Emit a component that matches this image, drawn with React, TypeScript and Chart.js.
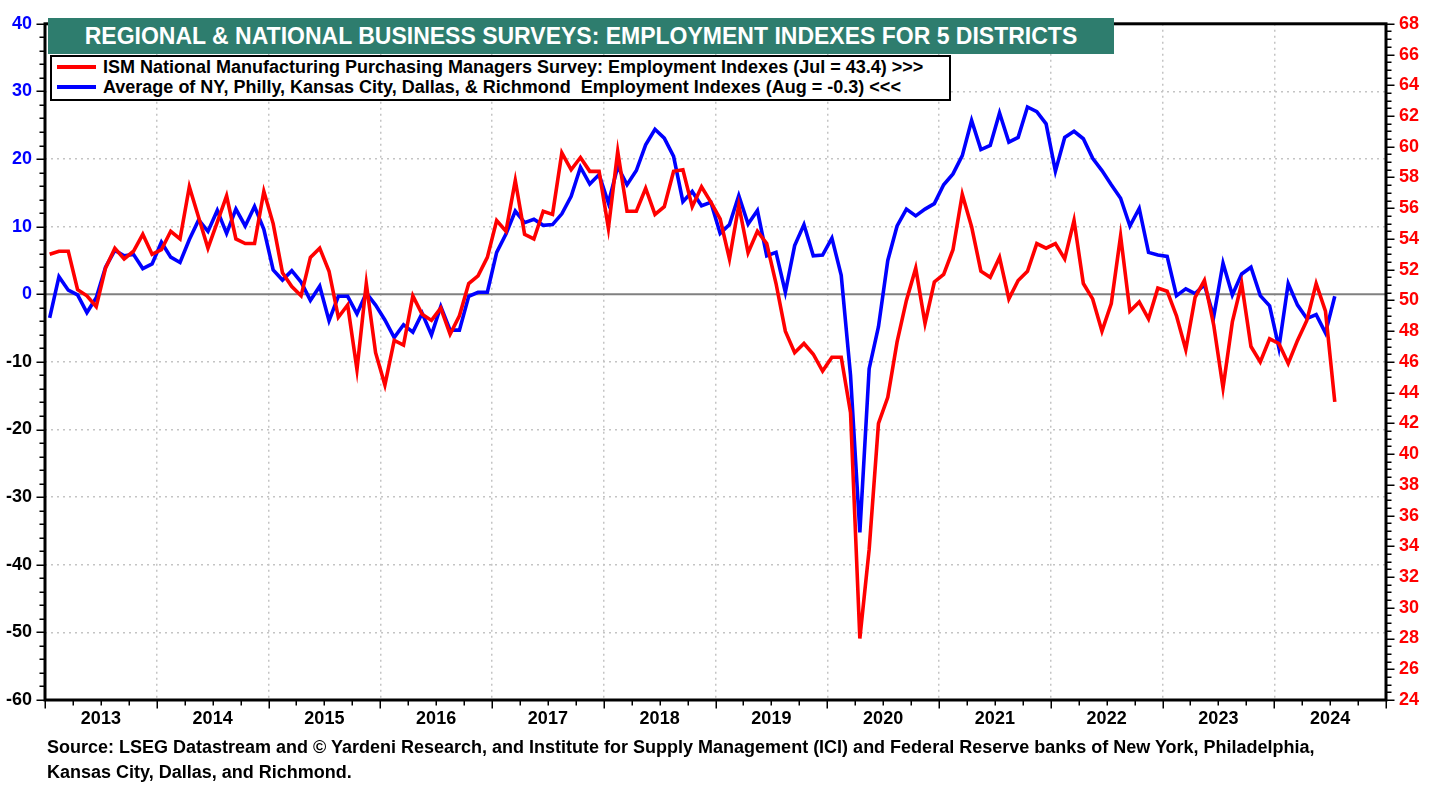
import React, { useEffect, useRef } from 'react';
import { Chart, registerables } from 'chart.js';

Chart.register(...registerables);

const FONT = 'Arial, "Liberation Sans", Helvetica, sans-serif';

// ---- data ----
const yearLabels = ['2013', '2014', '2015', '2016', '2017', '2018', '2019', '2020', '2021', '2022', '2023', '2024'];
const firstYear = 2013;
const axisMonths = 144; // Jan 2013 .. Jan 2025

const leftTickMin = -60;
const leftTickMax = 40;
const leftTickStep = 10;
const rightTickMin = 24;
const rightTickMax = 68;
const rightTickStep = 2;

// ISM manufacturing employment index (right axis), monthly from Jan 2013
const ismEmployment = [
  53.0, 53.2, 53.2, 50.7, 50.3, 49.6, 52.1, 53.4, 52.7, 53.2, 54.3, 53.0,
  53.3, 54.5, 54.0, 57.4, 55.4, 53.4, 55.1, 56.8, 54.0, 53.7, 53.7, 57.1,
  55.0, 51.8, 50.9, 50.3, 52.8, 53.4, 51.9, 48.9, 49.7, 45.5, 51.1, 46.6,
  44.5, 47.4, 47.1, 50.3, 49.1, 48.7, 49.5, 47.8, 49.0, 51.1, 51.6, 52.8,
  55.2, 54.5, 57.8, 54.3, 54.0, 55.8, 55.6, 59.6, 58.5, 59.3, 58.4, 58.4,
  54.7, 59.7, 55.8, 55.8, 57.3, 55.6, 56.1, 58.4, 58.5, 56.1, 57.4, 56.4,
  55.3, 52.7, 56.2, 53.1, 54.5, 53.7, 51.1, 48.0, 46.6, 47.2, 46.5, 45.4,
  46.3, 46.3, 42.7, 28.0, 33.8, 42.0, 43.7, 47.3, 50.0, 52.1, 48.5, 51.2,
  51.7, 53.3, 56.9, 54.8, 51.9, 51.5, 52.8, 50.1, 51.3, 51.9, 53.7, 53.4,
  53.7, 52.7, 55.2, 51.1, 50.1, 48.0, 49.8, 54.2, 49.3, 49.9, 48.8, 50.8,
  50.6, 49.0, 46.8, 50.2, 51.3, 48.4, 44.3, 48.6, 51.1, 47.0, 46.0, 47.5,
  47.2, 45.9, 47.4, 48.7, 51.1, 49.3, 43.4,
];

// Average of 5 regional Fed employment indexes (left axis)
const regionalEmployment = [
  -3.5, 2.6, 0.6, -0.1, -2.7, -0.5, 4.0, 6.5, 5.7, 5.9, 3.8, 4.5,
  7.7, 5.5, 4.7, 8.1, 11.0, 9.3, 12.4, 9.0, 12.6, 10.1, 13.0, 9.6,
  3.6, 2.1, 3.5, 1.8, -0.9, 1.2, -3.9, -0.3, -0.3, -2.9, 0.2, -1.6,
  -3.8, -6.4, -4.5, -5.6, -2.8, -6.0, -1.8, -5.3, -5.3, -0.3, 0.3, 0.3,
  6.2, 8.9, 12.3, 10.6, 11.1, 10.2, 10.3, 11.9, 14.5, 18.8, 16.3, 17.7,
  13.5, 18.9, 16.2, 18.3, 22.1, 24.4, 23.1, 20.4, 13.7, 15.2, 13.1, 13.6,
  9.0, 10.3, 14.6, 10.4, 12.4, 5.7, 6.2, 0.3, 7.2, 10.3, 5.7, 5.8,
  8.3, 2.8, -12.0, -35.2, -11.0, -4.8, 5.0, 10.1, 12.6, 11.6, 12.6, 13.4,
  16.2, 17.8, 20.5, 25.7, 21.4, 22.0, 26.8, 22.5, 23.2, 27.7, 27.0, 25.2,
  18.2, 23.2, 24.1, 23.0, 20.1, 18.3, 16.2, 14.2, 10.1, 12.7, 6.2, 5.8,
  5.6, -0.2, 0.8, 0.1, 1.4, -3.3, 4.6, -0.1, 3.0, 4.0, -0.2, -1.7,
  -7.9, 1.6, -1.6, -3.6, -3.0, -5.7, -0.3,
];

const monthCategories = ismEmployment.map((_, i) => `${firstYear + Math.floor(i / 12)}-${String((i % 12) + 1).padStart(2, '0')}`);

const titleText = 'REGIONAL & NATIONAL BUSINESS SURVEYS: EMPLOYMENT INDEXES FOR 5 DISTRICTS';
const legendLabels = [
  'ISM National Manufacturing Purchasing Managers Survey: Employment Indexes (Jul = 43.4) >>>',
  'Average of NY, Philly, Kansas City, Dallas, & Richmond  Employment Indexes (Aug = -0.3) <<<',
];
const sourceLines = [
  'Source: LSEG Datastream and \u00A9 Yardeni Research, and Institute for Supply Management (ICI) and Federal Reserve banks of New York, Philadelphia,',
  'Kansas City, Dallas, and Richmond.',
];

const RED = '#ff0000';
const BLUE = '#0000ff';
const GRID = '#c4c4c4';

const toPoints = (arr: number[]) => arr.map((v, i) => ({ x: i + 0.5, y: v }));

const framePlugin = {
  id: 'framePlugin',
  beforeDatasetsDraw(chart: any) {
    const { ctx, chartArea: ca, scales } = chart;
    const y0 = scales.y.getPixelForValue(0);
    ctx.save();
    ctx.strokeStyle = '#808080';
    ctx.lineWidth = 2;
    ctx.beginPath();
    ctx.moveTo(ca.left, y0);
    ctx.lineTo(ca.right, y0);
    ctx.stroke();
    ctx.restore();
  },
  afterDraw(chart: any) {
    const { ctx, chartArea: ca, scales } = chart;
    ctx.save();
    ctx.strokeStyle = '#000';
    ctx.lineWidth = 1.5;
    ctx.beginPath();
    for (let v = leftTickMin; v <= leftTickMax; v += 2) {
      const y = Math.round(scales.y.getPixelForValue(v)) + 0.25;
      const len = v % 10 === 0 ? 7 : 4;
      ctx.moveTo(ca.left - 1.5 - len, y);
      ctx.lineTo(ca.left, y);
    }
    for (let v = rightTickMin; v <= rightTickMax + 1e-9; v += 0.5) {
      const y = Math.round(scales.y2.getPixelForValue(v)) + 0.25;
      const len = Math.abs(v % 2) < 1e-9 ? 7 : 4;
      ctx.moveTo(ca.right, y);
      ctx.lineTo(ca.right + 1.5 + len, y);
    }
    for (let m = 0; m <= axisMonths; m += 3) {
      const x = Math.round(scales.x.getPixelForValue(m)) + 0.25;
      const len = m % 12 === 0 ? 7 : 4;
      ctx.moveTo(x, ca.bottom);
      ctx.lineTo(x, ca.bottom + 1.5 + len);
    }
    ctx.stroke();
    ctx.lineWidth = 3;
    ctx.strokeRect(ca.left, ca.top, ca.right - ca.left, ca.bottom - ca.top);
    ctx.restore();
  },
};

export default function App() {
  const canvasRef = useRef<HTMLCanvasElement | null>(null);

  useEffect(() => {
    const canvas = canvasRef.current;
    if (!canvas) return;
    const tickFont = { family: FONT, size: 18, weight: 'bold' as const };
    const chart = new Chart(canvas, {
      type: 'line',
      data: {
        labels: monthCategories,
        datasets: [
          {
            label: legendLabels[0],
            data: toPoints(ismEmployment),
            yAxisID: 'y2',
            borderColor: RED,
            backgroundColor: RED,
            borderWidth: 3.6,
            pointRadius: 0,
            tension: 0,
            fill: false,
          },
          {
            label: legendLabels[1],
            data: toPoints(regionalEmployment),
            yAxisID: 'y',
            borderColor: BLUE,
            backgroundColor: BLUE,
            borderWidth: 3.6,
            pointRadius: 0,
            tension: 0,
            fill: false,
          },
        ],
      },
      options: {
        responsive: false,
        animation: false,
        devicePixelRatio: 1,
        layout: { padding: { top: 15, left: 0, right: 0, bottom: 0 } },
        plugins: { legend: { display: false }, tooltip: { enabled: false }, title: { display: false } },
        scales: {
          x: {
            type: 'linear',
            min: 0,
            max: axisMonths,
            afterFit: (s: any) => { s.height = 87; },
            grid: {
              drawTicks: false,
              lineWidth: 1.5,
              color: (c: any) => {
                const v = c.tick ? c.tick.value : -1;
                return v % 12 === 0 && v > 0 && v < axisMonths ? GRID : 'rgba(0,0,0,0)';
              },
            },
            border: { display: false, dash: [2, 4] },
            ticks: {
              stepSize: 3,
              autoSkip: false,
              maxTicksLimit: 200,
              maxRotation: 0,
              padding: 8,
              color: '#000',
              font: tickFont,
              callback: (v: any) => {
                const n = Number(v);
                if (n % 12 === 6) return yearLabels[(n - 6) / 12] ?? '';
                return '';
              },
            },
          },
          y: {
            type: 'linear',
            position: 'left',
            min: leftTickMin,
            max: leftTickMax,
            afterFit: (s: any) => { s.width = 45; },
            grid: {
              drawTicks: false,
              lineWidth: 1.5,
              color: (c: any) => {
                const v = c.tick ? c.tick.value : 0;
                return v === 0 || v === leftTickMin || v === leftTickMax ? 'rgba(0,0,0,0)' : GRID;
              },
            },
            border: { display: false, dash: [2, 4] },
            ticks: {
              stepSize: leftTickStep,
              padding: 13,
              font: tickFont,
              color: (c: any) => (c.tick && c.tick.value >= 0 ? BLUE : '#000'),
            },
          },
          y2: {
            type: 'linear',
            position: 'right',
            min: rightTickMin,
            max: rightTickMax,
            afterFit: (s: any) => { s.width = 52; },
            grid: { drawOnChartArea: false, drawTicks: false },
            border: { display: false },
            ticks: {
              stepSize: rightTickStep,
              padding: 13,
              font: tickFont,
              color: RED,
            },
          },
        },
      },
      plugins: [framePlugin],
    } as any);
    return () => chart.destroy();
  }, []);

  const textBase: React.CSSProperties = { fontFamily: FONT, fontWeight: 'bold', position: 'absolute', whiteSpace: 'pre' };

  return (
    <div style={{ position: 'absolute', left: 0, top: 0, width: 1438, height: 787, background: '#fff', overflow: 'hidden' }}>
      <canvas ref={canvasRef} width={1438} height={787} style={{ position: 'absolute', left: 0, top: 0, width: 1438, height: 787 }} />
      <div
        style={{
          ...textBase,
          left: 48,
          top: 18,
          width: 1066,
          height: 36,
          lineHeight: '36px',
          background: '#2e7d6e',
          color: '#fff',
          fontSize: 23,
          textAlign: 'center',
        }}
      >
        {titleText}
      </div>
      <div
        style={{
          position: 'absolute',
          left: 50,
          top: 55,
          width: 901,
          height: 46,
          boxSizing: 'border-box',
          border: '2px solid #000',
          background: '#fff',
        }}
      >
        <div style={{ position: 'absolute', left: 5, top: 8, width: 39, height: 4, background: RED }} />
        <div style={{ position: 'absolute', left: 5, top: 28, width: 39, height: 4, background: BLUE }} />
        <div style={{ ...textBase, left: 51, top: 0, fontSize: 18, lineHeight: '20px', color: '#000' }}>{legendLabels[0]}</div>
        <div style={{ ...textBase, left: 51, top: 20, fontSize: 18, lineHeight: '20px', color: '#000' }}>{legendLabels[1]}</div>
      </div>
      <div style={{ ...textBase, left: 47, top: 735, fontSize: 18, lineHeight: '25px', color: '#000' }}>
        {sourceLines[0]}
        {'\n'}
        {sourceLines[1]}
      </div>
    </div>
  );
}
